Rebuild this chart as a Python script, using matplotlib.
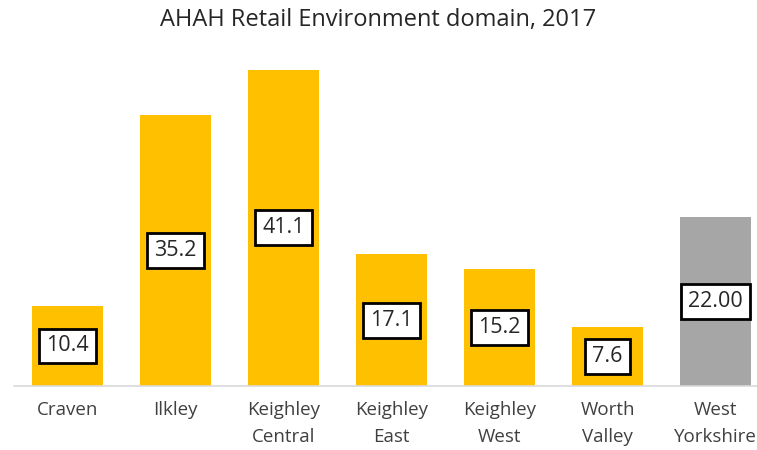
import matplotlib.pyplot as plt

# Data
areas = ['Craven', 'Ilkley', 'Keighley\nCentral', 'Keighley\nEast',
         'Keighley\nWest', 'Worth\nValley', 'West\nYorkshire']
scores = [10.4, 35.2, 41.1, 17.1, 15.2, 7.6, 22.00]
score_labels = ['10.4', '35.2', '41.1', '17.1', '15.2', '7.6', '22.00']

plt.rcParams['font.family'] = ['Open Sans', 'DejaVu Sans']

fig = plt.figure(figsize=(7.57, 4.5), dpi=100)
ax = fig.add_axes([13.5 / 757, 64 / 450, 756 / 757, 331 / 450])

colors = ['#FFC000'] * (len(areas) - 1) + ['#A6A6A6']
x = range(len(areas))
bars = ax.bar(x, scores, width=0.66, color=colors)

# value labels in boxes, centred in each bar
for xi, val, lab in zip(x, scores, score_labels):
    ax.text(xi, val / 2, lab, ha='center', va='center', fontsize=15.5,
            color='#262626',
            bbox=dict(boxstyle='square,pad=0.32', facecolor='white',
                      edgecolor='black', linewidth=2))

ax.set_xlim(-0.5, 6.5)
ax.set_ylim(0, 43)
ax.set_xticks(list(x))
ax.set_xticklabels(areas, fontsize=13.5, color='#404040', linespacing=1.65)
ax.tick_params(axis='x', length=0, pad=11)
ax.set_yticks([])
for side in ['top', 'right', 'left']:
    ax.spines[side].set_visible(False)
ax.spines['bottom'].set_color('#D9D9D9')
ax.spines['bottom'].set_linewidth(1.2)

fig.text(0.5, 0.955, 'AHAH Retail Environment domain, 2017', ha='center',
         va='center', fontsize=17, color='#262626')

fig.savefig('out.png', dpi=100)
